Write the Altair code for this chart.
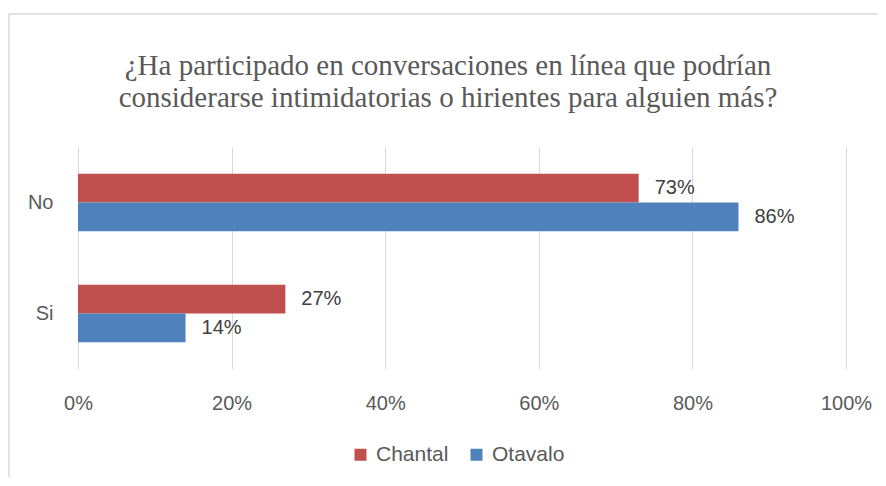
import altair as alt
import pandas as pd

categories = ["No", "Si"]
series = ["Chantal", "Otavalo"]
chantal = [0.73, 0.27]
otavalo = [0.86, 0.14]
x_ticks = [0, 0.2, 0.4, 0.6, 0.8, 1.0]
colors = ["#C0504D", "#4F81BD"]
title_lines = [
    "¿Ha participado en conversaciones en línea que podrían",
    "considerarse intimidatorias o hirientes para alguien más?",
]

rows = []
for i, c in enumerate(categories):
    rows.append({"cat": c, "serie": "Chantal", "val": chantal[i]})
    rows.append({"cat": c, "serie": "Otavalo", "val": otavalo[i]})
df = pd.DataFrame(rows)

FONT = "Liberation Sans"
GRAY = "#595959"
FS = 20

y_enc = alt.Y(
    "cat:N",
    sort=categories,
    scale=alt.Scale(paddingInner=0.48, paddingOuter=0.24),
    axis=alt.Axis(
        title=None, domain=False, ticks=False, labelPadding=25,
        labelFont=FONT, labelFontSize=FS, labelColor=GRAY,
    ),
)
x_enc = alt.X(
    "val:Q",
    scale=alt.Scale(domain=[0, 1]),
    axis=alt.Axis(
        title=None, values=x_ticks, format=".0%", domain=False, ticks=False,
        grid=True, gridColor="#d9d9d9", gridWidth=1, labelPadding=24,
        labelFlush=False,
        labelFont=FONT, labelFontSize=FS, labelColor=GRAY,
    ),
)
yoff = alt.YOffset("serie:N", sort=series)

bars = alt.Chart(df).mark_bar().encode(
    y=y_enc,
    x=x_enc,
    yOffset=yoff,
    color=alt.Color(
        "serie:N",
        sort=series,
        scale=alt.Scale(domain=series, range=colors),
        legend=alt.Legend(
            title=None, orient="none", legendX=272, legendY=297,
            direction="horizontal", symbolType="square", symbolSize=144,
            symbolStrokeWidth=0, labelFont=FONT, labelFontSize=21,
            labelColor=GRAY, labelOffset=5, columnPadding=17,
        ),
    ),
)

labels = alt.Chart(df).mark_text(
    align="left", baseline="middle", dx=16, font=FONT, fontSize=FS, color="#404040"
).encode(
    y=alt.Y("cat:N", sort=categories),
    x=alt.X("val:Q"),
    yOffset=yoff,
    text=alt.Text("val:Q", format=".0%"),
)

border_df = pd.DataFrame({"k": [0]})
left_border = alt.Chart(border_df).mark_rule(color="#d9d9d9", strokeWidth=1.5).encode(
    x=alt.value(-69), y=alt.value(-133), y2=alt.value(345)
)
top_border = alt.Chart(border_df).mark_rule(color="#d9d9d9", strokeWidth=1.5).encode(
    x=alt.value(-69), x2=alt.value(830), y=alt.value(-133)
)

chart = (
    alt.layer(left_border, top_border, bars, labels)
    .properties(
        width=768,
        height=222,
        autosize=alt.AutoSizeParams(type="none"),
        padding={"left": 70, "top": 139, "right": 32, "bottom": 108},
        title=alt.TitleParams(
            text=title_lines, font="Liberation Serif", fontSize=29, lineHeight=32,
            color=GRAY, fontWeight="normal", anchor="middle", dx=-14, dy=104,
        ),
    )
    .configure(background="white")
    .configure_view(strokeWidth=0, stroke="transparent")
)

chart.save("out.html", embed_options={"renderer": "svg", "actions": False})
